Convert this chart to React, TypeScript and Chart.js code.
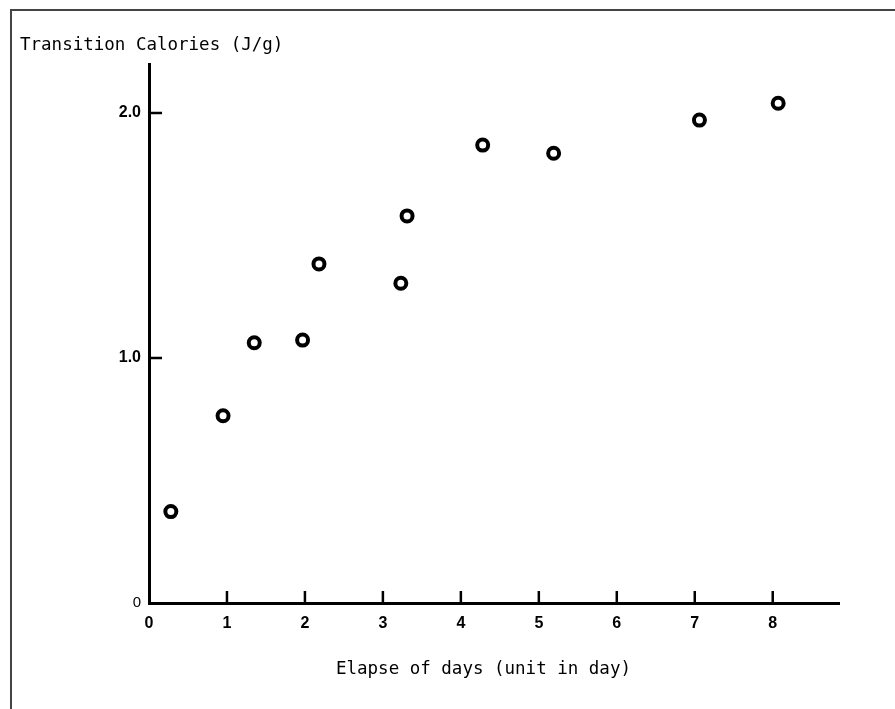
import React, { useEffect, useRef } from "react";
import { Chart, registerables } from "chart.js";

Chart.register(...registerables);

const elapsedDays: number[] = [0.28, 0.95, 1.35, 1.97, 2.18, 3.23, 3.31, 4.28, 5.19, 7.06, 8.07];
const calories: number[] = [0.373, 0.764, 1.062, 1.073, 1.384, 1.305, 1.58, 1.869, 1.836, 1.971, 2.04];
const xTickValues: number[] = [0, 1, 2, 3, 4, 5, 6, 7, 8];
const yTickValues: number[] = [0, 1, 2];
const yTickLabels: string[] = ["0", "1.0", "2.0"];
const yTitle = "Transition Calories (J/g)";
const xTitle = "Elapse of days (unit in day)  ";

const innerTicks = {
  id: "innerTicks",
  afterDraw(chart: any) {
    const { ctx, scales } = chart;
    const xs = scales.x;
    const ys = scales.y;
    ctx.save();
    ctx.strokeStyle = "#000";
    ctx.lineWidth = 2.5;
    ctx.beginPath();
    yTickValues.forEach((v) => {
      if (v === 0) return;
      const py = ys.getPixelForValue(v);
      ctx.moveTo(xs.left, py);
      ctx.lineTo(xs.left + 13, py);
    });
    xTickValues.forEach((v) => {
      if (v === 0) return;
      const px = xs.getPixelForValue(v);
      ctx.moveTo(px, ys.bottom);
      ctx.lineTo(px, ys.bottom - 12);
    });
    ctx.stroke();
    ctx.restore();
  },
};

export default function App() {
  const canvasRef = useRef<HTMLCanvasElement | null>(null);

  useEffect(() => {
    if (!canvasRef.current) return;
    const chart = new Chart(canvasRef.current, {
      type: "scatter",
      data: {
        datasets: [
          {
            data: elapsedDays.map((x, i) => ({ x, y: calories[i] })),
            pointRadius: 5.5,
            pointHoverRadius: 5.5,
            pointBorderWidth: 4,
            pointBackgroundColor: "#fff",
            pointBorderColor: "#000",
            showLine: false,
          },
        ],
      },
      plugins: [innerTicks],
      options: {
        responsive: false,
        animation: false,
        events: [],
        layout: { padding: { left: 20, top: 0, right: 56, bottom: 0 } },
        plugins: {
          legend: { display: false },
          tooltip: { enabled: false },
          title: {
            display: true,
            text: yTitle,
            align: "start",
            color: "#000",
            font: { family: "DejaVu Sans Mono", size: 17.5, weight: "normal" },
            padding: { top: 35, bottom: 8 },
          },
        },
        scales: {
          x: {
            type: "linear",
            min: 0,
            max: 8.85,
            afterBuildTicks: (scale: any) => {
              scale.ticks = xTickValues.map((value) => ({ value }));
            },
            afterFit: (scale: any) => {
              scale.height = 106;
            },
            grid: { display: false, drawTicks: false },
            border: { display: true, color: "#000", width: 3 },
            ticks: {
              color: "#000",
              padding: 11,
              font: { family: "Liberation Sans", size: 16, weight: "bold" },
              callback: (v: any) => String(v),
            },
            title: {
              display: true,
              text: xTitle,
              color: "#000",
              font: { family: "DejaVu Sans Mono", size: 17.5, weight: "normal" },
              padding: { top: 0, bottom: 29 },
            },
          },
          y: {
            type: "linear",
            min: 0,
            max: 2.2,
            afterBuildTicks: (scale: any) => {
              scale.ticks = yTickValues.map((value) => ({ value }));
            },
            afterFit: (scale: any) => {
              scale.width = 129;
            },
            grid: { display: false, drawTicks: false },
            border: { display: true, color: "#000", width: 3 },
            ticks: {
              color: "#000",
              padding: 8,
              font: (ctx: any) =>
                ctx.tick && ctx.tick.value === 0
                  ? { family: "Liberation Sans", size: 15, weight: "normal" }
                  : { family: "Liberation Sans", size: 16, weight: "bold" },
              callback: (v: any) => yTickLabels[yTickValues.indexOf(Number(v))] ?? "",
            },
          },
        },
      },
    });
    return () => chart.destroy();
  }, []);

  return (
    <div style={{ position: "fixed", left: 0, top: 0, width: 895, height: 709, background: "#fff" }}>
      <canvas ref={canvasRef} width={895} height={709} style={{ display: "block" }} />
      <div
        style={{
          position: "absolute",
          left: 10,
          top: 9,
          right: 0,
          bottom: 0,
          borderTop: "2px solid #444",
          borderLeft: "2px solid #444",
          pointerEvents: "none",
        }}
      />
    </div>
  );
}
